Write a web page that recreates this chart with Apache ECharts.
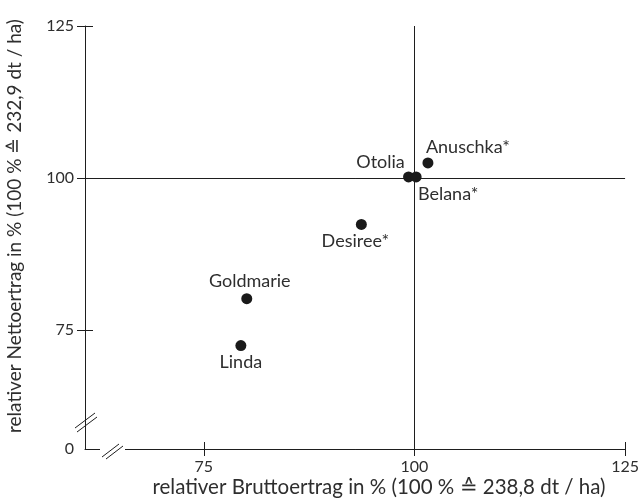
<!DOCTYPE html>
<html>
<head>
<meta charset="utf-8">
<script src="https://cdn.jsdelivr.net/npm/echarts@6/dist/echarts.min.js"></script>
<style>
html,body{margin:0;padding:0;background:#fff;}
#chart{width:642px;height:503px;}
</style>
</head>
<body>
<div id="chart"></div>
<script>
// Daten: relative Erträge der Sorten (in %)
var sorten = ['Anuschka*', 'Otolia', 'Belana*', 'Desiree*', 'Goldmarie', 'Linda'];
var brutto = [101.6, 99.3, 100.2, 93.7, 80.1, 79.4];
var netto  = [102.5, 100.2, 100.2, 92.4, 80.2, 72.5];
var xTicks = [75, 100, 125];
var yTicks = [75, 100, 125];
var refX = 100, refY = 100;
var xTitle = 'relativer Bruttoertrag in % (100 % \u2259 238,8 dt / ha)';
var yTitle = 'relativer Nettoertrag in % (100 % \u2259 232,9 dt / ha)';

// Achsenbereich (unterbrochene Achsen)
var xMin = 60.9, xMax = 125, yMin = 55.5, yMax = 125;

// Label-Versatz relativ zum Punkt (px)
var labelOffsets = [[40, -16], [-28, -15], [32, 17], [-6, 17], [3, -17], [0, 17]];

var font = 'Lato';
var ink = '#1e1e1e';
var txt = '#2e2e2e';
var gridL = 85, gridR = 16, gridT = 26, gridB = 54;
var W = 642, H = 503;
var axisY = H - gridB;
var tickIn = 7;

var pts = [];
for (var i = 0; i < sorten.length; i++) {
    pts.push({
        name: sorten[i],
        value: [brutto[i], netto[i]],
        label: {offset: labelOffsets[i]}
    });
}

var myChart = echarts.init(document.getElementById('chart'));

var option = {
    animation: false,
    backgroundColor: '#fff',
    grid: {left: gridL, right: gridR, top: gridT, bottom: gridB, containLabel: false},
    xAxis: {
        type: 'value', min: xMin, max: xMax,
        axisLine: {show: true, onZero: false, lineStyle: {color: ink, width: 1}},
        axisTick: {show: true, length: 7, customValues: xTicks, lineStyle: {color: ink, width: 1}},
        axisLabel: {customValues: xTicks, margin: 10, color: txt, fontFamily: font, fontSize: 16},
        splitLine: {show: false}
    },
    yAxis: {
        type: 'value', min: yMin, max: yMax,
        axisLine: {show: true, onZero: false, lineStyle: {color: ink, width: 1}},
        axisTick: {show: true, length: 8, customValues: yTicks, lineStyle: {color: ink, width: 1}},
        axisLabel: {
            customValues: [yMin].concat(yTicks), margin: 11,
            color: txt, fontFamily: font, fontSize: 16,
            formatter: function(v){ return Math.abs(v - yMin) < 0.01 ? '0' : String(v); }
        },
        splitLine: {show: false}
    },
    series: [{
        type: 'scatter',
        symbolSize: 11,
        itemStyle: {color: '#1a1a1a', opacity: 1},
        label: {
            show: true, position: 'inside', formatter: '{b}',
            color: txt, fontFamily: font, fontSize: 18
        },
        data: pts,
        markLine: {
            silent: true, symbol: 'none',
            label: {show: false},
            lineStyle: {color: ink, width: 1, type: 'solid', opacity: 1},
            data: [{xAxis: refX}, {yAxis: refY}]
        },
        z: 5
    }]
};
myChart.setOption(option);

// Innere Tickhälften (Ticks kreuzen die Achse) + Achsenbruch + Titel
var gfx = [];
for (var k = 0; k < xTicks.length; k++) {
    var px = Math.round(myChart.convertToPixel({xAxisIndex: 0}, xTicks[k])) + 0.5;
    gfx.push({type: 'line', shape: {x1: px, y1: axisY - tickIn, x2: px, y2: axisY}, style: {stroke: ink, lineWidth: 1}, z: 100});
}
for (var k = 0; k < yTicks.length; k++) {
    var py = Math.round(myChart.convertToPixel({yAxisIndex: 0}, yTicks[k])) + 0.5;
    gfx.push({type: 'line', shape: {x1: gridL, y1: py, x2: gridL + 8, y2: py}, style: {stroke: ink, lineWidth: 1}, z: 100});
}
gfx.push(
    {type: 'rect', shape: {x: 100, y: axisY - 3, width: 25, height: 6}, style: {fill: '#fff'}, z: 100},
    {type: 'line', shape: {x1: 102, y1: axisY + 8, x2: 119, y2: axisY - 5}, style: {stroke: ink, lineWidth: 1}, z: 101},
    {type: 'line', shape: {x1: 106, y1: axisY + 10, x2: 123, y2: axisY - 3}, style: {stroke: ink, lineWidth: 1}, z: 101},
    {type: 'line', shape: {x1: 75, y1: 428, x2: 95, y2: 413}, style: {stroke: ink, lineWidth: 1}, z: 101},
    {type: 'line', shape: {x1: 77, y1: 432, x2: 97, y2: 417}, style: {stroke: ink, lineWidth: 1}, z: 101},
    {type: 'text', x: 379, y: 487, style: {text: xTitle, font: '20.5px "' + font + '"', fill: txt, align: 'center', verticalAlign: 'middle'}},
    {type: 'text', x: 15, y: 226, rotation: Math.PI / 2, style: {text: yTitle, font: '19px "' + font + '"', fill: txt, align: 'center', verticalAlign: 'middle'}}
);
myChart.setOption({graphic: gfx});
</script>
</body>
</html>
